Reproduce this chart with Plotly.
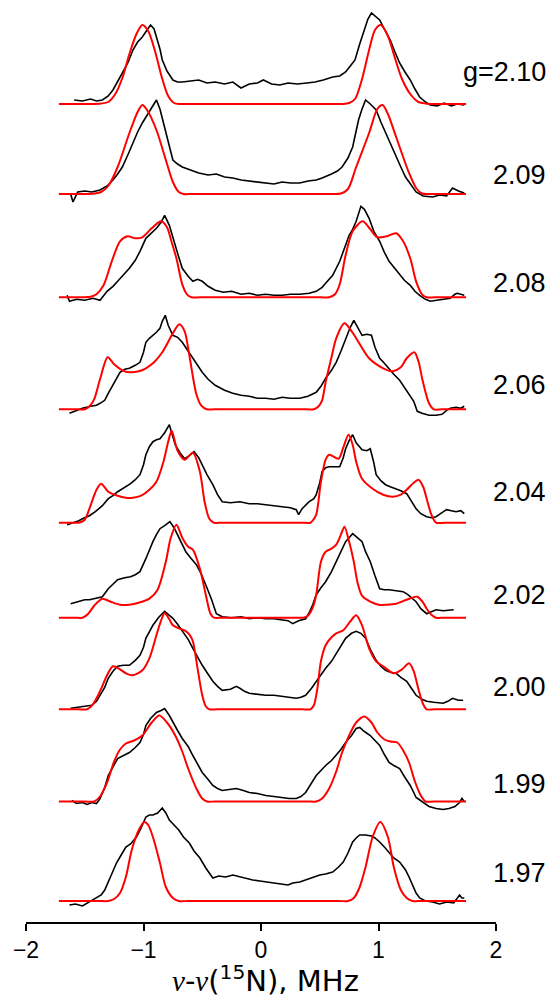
import plotly.graph_objects as go

# ---------------- data (heights in arbitrary intensity units) ----------------
g_labels = ["g=2.10", "2.09", "2.08", "2.06", "2.04", "2.02", "2.00", "1.99", "1.97"]

# experimental (black) spectra
exp_210_x = [-1.59, -1.52, -1.45, -1.40, -1.35, -1.30, -1.26, -1.22, -1.18, -1.13, -1.09, -1.05, -1.01, -0.97, -0.94, -0.91, -0.89, -0.86, -0.84, -0.80, -0.75, -0.71, -0.67, -0.60, -0.53, -0.46, -0.39, -0.31, -0.24, -0.17, -0.10, -0.03, 0.02, 0.09, 0.16, 0.23, 0.31, 0.39, 0.46, 0.53, 0.61, 0.67, 0.72, 0.76, 0.80, 0.84, 0.87, 0.91, 0.94, 0.97, 1.01, 1.05, 1.10, 1.14, 1.18, 1.22, 1.27, 1.31, 1.35, 1.40, 1.44, 1.50, 1.56, 1.62, 1.67, 1.73]
exp_210_y = [4, 3, 5, 3, 4, 8, 14, 22, 31, 42, 54, 62, 67, 74, 79, 75, 67, 55, 44, 33, 24, 22, 22, 23, 24, 21, 22, 20, 22, 16, 20, 21, 24, 20, 19, 21, 20, 21, 22, 24, 27, 28, 32, 38, 44, 60, 71, 85, 91, 88, 84, 75, 64, 52, 41, 33, 24, 15, 7, 2, -1, -2, 1, -2, 0, -1]

exp_209_x = [-1.62, -1.60, -1.56, -1.50, -1.44, -1.37, -1.31, -1.26, -1.22, -1.18, -1.13, -1.09, -1.05, -1.01, -0.96, -0.92, -0.89, -0.86, -0.82, -0.78, -0.75, -0.71, -0.67, -0.60, -0.53, -0.45, -0.38, -0.31, -0.24, -0.17, -0.10, -0.03, 0.04, 0.11, 0.18, 0.25, 0.33, 0.40, 0.47, 0.52, 0.60, 0.65, 0.69, 0.74, 0.78, 0.81, 0.83, 0.86, 0.89, 0.93, 0.98, 1.02, 1.06, 1.10, 1.15, 1.19, 1.23, 1.28, 1.32, 1.38, 1.46, 1.52, 1.58, 1.63, 1.68, 1.73]
exp_209_y = [0, -8, 2, 3, 2, 4, 8, 14, 20, 27, 40, 51, 62, 71, 81, 88, 94, 85, 67, 48, 34, 30, 27, 24, 21, 19, 20, 17, 16, 14, 13, 12, 11, 10, 12, 11, 11, 13, 14, 16, 20, 23, 27, 36, 47, 62, 74, 85, 94, 90, 84, 72, 61, 50, 37, 27, 17, 9, 2, -2, -3, -1, -2, 6, 3, 1]

exp_208_x = [-1.65, -1.63, -1.57, -1.50, -1.43, -1.37, -1.31, -1.26, -1.22, -1.17, -1.12, -1.07, -1.03, -0.98, -0.93, -0.89, -0.85, -0.82, -0.78, -0.75, -0.71, -0.67, -0.62, -0.58, -0.54, -0.50, -0.45, -0.39, -0.32, -0.25, -0.17, -0.10, -0.03, 0.04, 0.11, 0.18, 0.25, 0.33, 0.41, 0.47, 0.52, 0.55, 0.61, 0.67, 0.71, 0.75, 0.78, 0.81, 0.85, 0.88, 0.92, 0.96, 1.01, 1.05, 1.09, 1.13, 1.18, 1.22, 1.27, 1.31, 1.35, 1.40, 1.44, 1.50, 1.55, 1.61, 1.65, 1.67, 1.73]
exp_208_y = [2, -4, -2, -3, -1, -3, 6, 11, 16, 22, 29, 37, 46, 59, 65, 69, 75, 82, 72, 59, 44, 29, 21, 16, 18, 16, 11, 7, 5, 6, 3, 4, 2, 3, 2, 2, 3, 3, 4, 6, 10, 14, 22, 36, 48, 62, 68, 76, 91, 88, 79, 66, 56, 45, 36, 30, 22, 17, 12, 6, 2, -2, -4, -3, -2, -1, 3, 4, 2]

exp_206_x = [-1.63, -1.57, -1.52, -1.45, -1.40, -1.37, -1.33, -1.30, -1.26, -1.23, -1.20, -1.16, -1.12, -1.07, -1.03, -1.00, -0.98, -0.95, -0.92, -0.89, -0.86, -0.84, -0.815, -0.79, -0.75, -0.71, -0.67, -0.62, -0.58, -0.54, -0.50, -0.45, -0.39, -0.31, -0.24, -0.17, -0.10, -0.03, 0.04, 0.11, 0.18, 0.25, 0.33, 0.40, 0.47, 0.51, 0.55, 0.60, 0.64, 0.68, 0.72, 0.76, 0.79, 0.83, 0.86, 0.90, 0.94, 0.97, 1.01, 1.05, 1.09, 1.13, 1.18, 1.22, 1.27, 1.30, 1.33, 1.37, 1.43, 1.49, 1.54, 1.58, 1.61, 1.66, 1.70, 1.73]
exp_206_y = [-4, -1, 1, 3, 4, 6, 9, 16, 24, 30, 37, 40, 41, 44, 47, 57, 67, 71, 74, 77, 81, 88, 94, 84, 74, 72, 67, 58, 51, 44, 37, 30, 24, 19, 16, 14, 13, 11, 11, 10, 12, 11, 11, 13, 17, 23, 31, 39, 47, 58, 71, 82, 89, 80, 74, 75, 74, 62, 51, 46, 40, 35, 29, 22, 14, 8, -2, -4, -6, -6, -5, -1, 1, 2, 1, 3]

exp_204_x = [-1.65, -1.60, -1.55, -1.52, -1.46, -1.41, -1.35, -1.30, -1.26, -1.22, -1.16, -1.11, -1.07, -1.03, -1.00, -0.98, -0.95, -0.92, -0.89, -0.86, -0.82, -0.78, -0.75, -0.73, -0.69, -0.65, -0.61, -0.57, -0.53, -0.50, -0.46, -0.41, -0.37, -0.33, -0.26, -0.18, -0.10, -0.03, 0.04, 0.11, 0.18, 0.25, 0.30, 0.32, 0.35, 0.41, 0.45, 0.47, 0.50, 0.52, 0.55, 0.58, 0.62, 0.67, 0.70, 0.72, 0.75, 0.78, 0.81, 0.86, 0.90, 0.93, 0.96, 0.98, 1.02, 1.06, 1.10, 1.15, 1.19, 1.24, 1.28, 1.32, 1.36, 1.41, 1.45, 1.49, 1.54, 1.58, 1.62, 1.66, 1.70, 1.73]
exp_204_y = [-2, 0, 2, 4, 7, 11, 17, 24, 27, 31, 35, 39, 43, 48, 58, 68, 76, 81, 83, 84, 90, 98, 86, 78, 70, 64, 67, 71, 65, 58, 48, 38, 28, 21, 20, 21, 19, 19, 18, 17, 16, 15, 13, 8, 14, 21, 24, 28, 40, 51, 55, 56, 56, 56, 65, 74, 82, 88, 80, 73, 72, 74, 60, 48, 42, 38, 36, 34, 32, 29, 22, 14, 9, 6, 5, 6, 10, 13, 12, 11, 12, 9]

exp_202_x = [-1.62, -1.56, -1.50, -1.46, -1.40, -1.35, -1.30, -1.26, -1.22, -1.16, -1.11, -1.07, -1.03, -0.98, -0.95, -0.92, -0.89, -0.86, -0.82, -0.775, -0.74, -0.71, -0.67, -0.64, -0.60, -0.55, -0.51, -0.48, -0.45, -0.42, -0.40, -0.38, -0.33, -0.25, -0.17, -0.10, -0.03, 0.04, 0.11, 0.18, 0.23, 0.27, 0.32, 0.38, 0.41, 0.44, 0.47, 0.51, 0.55, 0.60, 0.64, 0.68, 0.72, 0.75, 0.78, 0.82, 0.86, 0.89, 0.93, 0.97, 1.01, 1.05, 1.09, 1.15, 1.21, 1.25, 1.29, 1.32, 1.36, 1.41, 1.45, 1.49, 1.55, 1.61, 1.64]
exp_202_y = [14, 16, 18, 18, 20, 21, 29, 34, 38, 40, 41, 43, 46, 59, 68, 76, 83, 89, 92, 96, 90, 83, 74, 66, 60, 53, 44, 36, 27, 18, 10, 4, 1, 0, 1, -1, 0, -1, -1, -2, -3, -6, -3, -1, 5, 13, 23, 30, 36, 46, 56, 66, 76, 80, 84, 80, 76, 66, 56, 42, 29, 28, 28, 27, 26, 23, 19, 16, 9, 4, 6, 8, 7, 8, 8]

exp_200_x = [-1.62, -1.56, -1.50, -1.44, -1.40, -1.37, -1.33, -1.30, -1.26, -1.22, -1.17, -1.12, -1.07, -1.03, -1.00, -0.98, -0.95, -0.92, -0.87, -0.82, -0.78, -0.75, -0.71, -0.67, -0.62, -0.58, -0.54, -0.50, -0.45, -0.41, -0.37, -0.33, -0.26, -0.21, -0.18, -0.14, -0.10, -0.03, 0.04, 0.11, 0.18, 0.24, 0.30, 0.34, 0.38, 0.43, 0.47, 0.51, 0.55, 0.60, 0.64, 0.68, 0.72, 0.77, 0.81, 0.85, 0.89, 0.93, 0.98, 1.02, 1.06, 1.10, 1.15, 1.19, 1.24, 1.28, 1.32, 1.37, 1.41, 1.47, 1.55, 1.59, 1.63, 1.68, 1.72]
exp_200_y = [1, 2, 3, 4, 8, 14, 22, 31, 38, 43, 44, 44, 49, 54, 62, 71, 78, 84, 92, 98, 94, 91, 85, 78, 70, 61, 52, 44, 35, 28, 23, 19, 20, 23, 21, 18, 16, 15, 14, 14, 13, 12, 11, 12, 14, 21, 28, 34, 41, 48, 56, 64, 71, 76, 78, 76, 71, 60, 49, 43, 39, 37, 36, 32, 28, 21, 14, 10, 8, 7, 6, 8, 11, 9, 9]

exp_199_x = [-1.61, -1.57, -1.52, -1.48, -1.44, -1.40, -1.37, -1.33, -1.30, -1.26, -1.22, -1.17, -1.12, -1.07, -1.03, -1.00, -0.98, -0.94, -0.89, -0.85, -0.82, -0.78, -0.75, -0.71, -0.67, -0.62, -0.58, -0.54, -0.50, -0.45, -0.41, -0.37, -0.33, -0.27, -0.21, -0.15, -0.10, -0.03, 0.04, 0.11, 0.18, 0.24, 0.30, 0.34, 0.38, 0.43, 0.47, 0.51, 0.55, 0.60, 0.64, 0.68, 0.72, 0.77, 0.81, 0.84, 0.88, 0.93, 0.97, 1.01, 1.05, 1.09, 1.13, 1.18, 1.22, 1.27, 1.30, 1.32, 1.37, 1.43, 1.49, 1.55, 1.60, 1.65, 1.69, 1.71, 1.73]
exp_199_y = [1, -2, -1, -3, -1, -2, 3, 14, 26, 35, 43, 46, 49, 54, 59, 67, 76, 83, 89, 91, 93, 86, 79, 71, 63, 55, 46, 38, 29, 22, 16, 13, 11, 12, 13, 11, 9, 8, 6, 5, 4, 3, 3, 5, 9, 18, 26, 31, 36, 41, 46, 52, 59, 66, 73, 74, 70, 66, 61, 56, 47, 39, 36, 33, 25, 16, 9, 4, 0, -5, -7, -8, -7, -5, -1, 3, 0]

exp_197_x = [-1.63, -1.58, -1.52, -1.46, -1.40, -1.36, -1.33, -1.29, -1.26, -1.23, -1.19, -1.15, -1.11, -1.06, -1.02, -0.98, -0.95, -0.92, -0.88, -0.84, -0.81, -0.78, -0.74, -0.70, -0.66, -0.61, -0.57, -0.52, -0.47, -0.43, -0.41, -0.36, -0.30, -0.24, -0.18, -0.13, -0.07, -0.01, 0.04, 0.11, 0.17, 0.23, 0.27, 0.33, 0.38, 0.44, 0.50, 0.55, 0.61, 0.66, 0.70, 0.74, 0.78, 0.81, 0.84, 0.89, 0.94, 0.97, 1.01, 1.05, 1.09, 1.13, 1.18, 1.21, 1.23, 1.26, 1.29, 1.32, 1.35, 1.40, 1.46, 1.52, 1.58, 1.64, 1.69, 1.71, 1.73]
exp_197_y = [-4, -3, -5, -1, 3, 6, 11, 22, 30, 38, 46, 54, 57, 64, 73, 84, 86, 86, 88, 93, 88, 81, 76, 71, 64, 58, 50, 43, 33, 27, 23, 25, 24, 26, 24, 23, 21, 20, 19, 18, 17, 16, 18, 19, 21, 24, 26, 27, 29, 34, 39, 48, 59, 63, 66, 66, 65, 63, 59, 54, 48, 43, 39, 34, 31, 24, 16, 8, 3, 0, -1, -3, -1, -2, 6, 3, 3]

# simulated (red) spectra
sim_210_x = [-1.72, -1.45, -1.36, -1.30, -1.24, -1.18, -1.12, -1.06, -1.01, -0.96, -0.90, -0.84, -0.79, -0.74, -0.69, -0.60, 0.0, 0.62, 0.70, 0.75, 0.80, 0.86, 0.92, 0.97, 1.02, 1.08, 1.14, 1.20, 1.27, 1.34, 1.40, 1.48, 1.745]
sim_210_y = [0, 0, 0.5, 2, 10, 26, 50, 70, 79, 73, 52, 25, 8, 1, 0, 0, 0, 0, 0, 1, 5, 25, 54, 74, 79, 68, 46, 25, 10, 2, 0.5, 0, 0]

sim_209_x = [-1.72, -1.50, -1.42, -1.36, -1.30, -1.22, -1.12, -1.05, -1.01, -0.97, -0.89, -0.81, -0.75, -0.70, -0.66, -0.58, 0.0, 0.60, 0.68, 0.74, 0.81, 0.92, 0.99, 1.035, 1.08, 1.15, 1.26, 1.32, 1.37, 1.45, 1.745]
sim_209_y = [0, 0, 0.5, 2, 8, 27, 61, 82, 89, 84, 64, 34, 12, 2, 0, 0, 0, 0, 0.5, 5, 27, 61, 85, 89, 80, 57, 21, 6, 0.5, 0, 0]

sim_208_x = [-1.72, -1.52, -1.45, -1.40, -1.34, -1.27, -1.20, -1.135, -1.07, -1.01, -0.93, -0.85, -0.80, -0.76, -0.72, -0.67, -0.63, -0.59, -0.52, 0.0, 0.51, 0.58, 0.63, 0.67, 0.72, 0.78, 0.865, 0.93, 0.99, 1.07, 1.15, 1.21, 1.27, 1.32, 1.37, 1.41, 1.48, 1.745]
sim_208_y = [0, 0, 0.5, 3, 12, 36, 56, 61, 59, 60, 69, 76, 70, 55, 39, 13, 3, 0, 0, 0, 0, 0, 3, 13, 42, 66, 76, 68, 60, 61, 64, 56, 39, 16, 3, 0, 0, 0]

sim_206_x = [-1.72, -1.55, -1.50, -1.46, -1.42, -1.37, -1.305, -1.25, -1.18, -1.12, -1.04, -0.98, -0.91, -0.84, -0.75, -0.695, -0.65, -0.61, -0.55, -0.51, -0.46, -0.40, 0.0, 0.39, 0.45, 0.49, 0.52, 0.55, 0.60, 0.64, 0.71, 0.76, 0.81, 0.92, 1.04, 1.12, 1.19, 1.24, 1.305, 1.34, 1.375, 1.43, 1.47, 1.54, 1.745]
sim_206_y = [0, 0, 0, 3, 10, 30, 52, 45, 39, 37, 38, 41, 47, 57, 76, 85, 78, 54, 15, 4, 0, 0, 0, 0, 0, 3, 9, 27, 52, 71, 86, 80, 71, 51, 41, 38, 42, 51, 57, 48, 29, 6, 0, 0, 0]

sim_204_x = [-1.72, -1.60, -1.55, -1.50, -1.46, -1.40, -1.36, -1.30, -1.22, -1.15, -1.09, -1.02, -0.95, -0.89, -0.83, -0.79, -0.76, -0.71, -0.65, -0.58, -0.52, -0.48, -0.44, -0.40, -0.33, 0.0, 0.35, 0.42, 0.44, 0.47, 0.51, 0.55, 0.58, 0.66, 0.70, 0.745, 0.78, 0.81, 0.86, 0.95, 1.04, 1.12, 1.19, 1.24, 1.30, 1.34, 1.38, 1.41, 1.45, 1.49, 1.56, 1.745]
sim_204_y = [0, 0, 0, 3, 14, 33, 39, 31, 27, 25, 25, 27, 33, 41, 61, 81, 92, 72, 63, 70, 51, 21, 4, 0, 0, 0, 0, 0, 2, 8, 41, 63, 68, 64, 75, 88, 78, 61, 44, 34, 28, 26, 28, 33, 40, 43, 36, 24, 8, 0, 0, 0]

sim_202_x = [-1.72, -1.58, -1.52, -1.47, -1.42, -1.35, -1.28, -1.20, -1.12, -1.04, -0.95, -0.88, -0.81, -0.77, -0.72, -0.67, -0.62, -0.58, -0.52, -0.47, -0.43, -0.40, -0.33, 0.0, 0.30, 0.36, 0.40, 0.44, 0.47, 0.51, 0.55, 0.60, 0.64, 0.68, 0.71, 0.75, 0.79, 0.82, 0.86, 0.93, 1.00, 1.07, 1.15, 1.24, 1.33, 1.38, 1.41, 1.45, 1.49, 1.56, 1.745]
sim_202_y = [0, 0, 0, 4, 12, 19, 16, 13, 13, 15, 19, 28, 56, 79, 93, 80, 71, 68, 49, 23, 4, 0, 0, 0, 0, 0, 2, 10, 23, 56, 66, 69, 73, 83, 91, 76, 56, 36, 22, 16, 13, 13, 14, 18, 21, 15, 9, 3, 0, 0, 0]

sim_200_x = [-1.72, -1.55, -1.48, -1.43, -1.37, -1.31, -1.26, -1.20, -1.15, -1.09, -1.01, -0.95, -0.89, -0.85, -0.82, -0.78, -0.75, -0.70, -0.65, -0.61, -0.58, -0.54, -0.50, -0.47, -0.44, -0.37, 0.0, 0.35, 0.42, 0.45, 0.48, 0.51, 0.55, 0.60, 0.64, 0.70, 0.76, 0.81, 0.86, 0.92, 0.98, 1.04, 1.13, 1.20, 1.26, 1.30, 1.34, 1.38, 1.41, 1.48, 1.745]
sim_200_y = [0, 0, 0, 5, 18, 34, 43, 40, 36, 34, 39, 51, 74, 89, 96, 90, 84, 81, 79, 75, 68, 41, 14, 3, 0, 0, 0, 0, 0, 4, 21, 48, 64, 72, 76, 79, 88, 94, 84, 61, 48, 43, 36, 40, 46, 38, 20, 5, 0, 0, 0]

sim_199_x = [-1.72, -1.50, -1.42, -1.37, -1.31, -1.25, -1.20, -1.15, -1.08, -1.01, -0.93, -0.865, -0.80, -0.73, -0.67, -0.62, -0.55, -0.50, -0.46, -0.39, 0.0, 0.40, 0.47, 0.52, 0.58, 0.64, 0.69, 0.75, 0.81, 0.88, 0.94, 0.99, 1.05, 1.10, 1.16, 1.21, 1.26, 1.31, 1.36, 1.40, 1.47, 1.745]
sim_199_y = [0, 0, 0, 5, 19, 40, 52, 58, 61, 66, 79, 86, 79, 66, 50, 33, 13, 3, 0, 0, 0, 0, 0, 3, 13, 30, 49, 66, 79, 85, 79, 69, 62, 60, 59, 51, 39, 20, 6, 0, 0, 0]

sim_197_x = [-1.72, -1.38, -1.30, -1.25, -1.20, -1.15, -1.10, -1.04, -0.993, -0.96, -0.92, -0.86, -0.81, -0.75, -0.70, -0.62, 0.0, 0.66, 0.74, 0.79, 0.84, 0.89, 0.95, 1.015, 1.08, 1.13, 1.19, 1.24, 1.29, 1.37, 1.745]
sim_197_y = [0, 0, 0, 2, 8, 24, 51, 71, 79, 76, 64, 38, 14, 3, 0, 0, 0, 0, 0, 3, 14, 34, 64, 79, 64, 34, 11, 3, 0, 0, 0]

x_ticks = [-2, -1, 0, 1, 2]
x_tick_labels = ["\u22122", "\u22121", "0", "1", "2"]

# ---------------- layout helpers ----------------
trace_offsets = [818, 728, 624.7, 512.7, 399.3, 304.3, 212.7, 120.5, 21]
label_y = [850, 747, 639, 537, 430, 327, 235, 138, 49]

experimental = [
    (exp_210_x, exp_210_y), (exp_209_x, exp_209_y), (exp_208_x, exp_208_y),
    (exp_206_x, exp_206_y), (exp_204_x, exp_204_y), (exp_202_x, exp_202_y),
    (exp_200_x, exp_200_y), (exp_199_x, exp_199_y), (exp_197_x, exp_197_y),
]
simulated = [
    (sim_210_x, sim_210_y), (sim_209_x, sim_209_y), (sim_208_x, sim_208_y),
    (sim_206_x, sim_206_y), (sim_204_x, sim_204_y), (sim_202_x, sim_202_y),
    (sim_200_x, sim_200_y), (sim_199_x, sim_199_y), (sim_197_x, sim_197_y),
]

FONT = "Liberation Sans, Arial, sans-serif"

fig = go.Figure()
for (ex, ey), (sx, sy), off in zip(experimental, simulated, trace_offsets):
    fig.add_trace(go.Scatter(
        x=ex, y=[v + off for v in ey], mode="lines",
        line=dict(color="black", width=1.6), showlegend=False, hoverinfo="skip"))
    fig.add_trace(go.Scatter(
        x=sx, y=[v + off for v in sy], mode="lines",
        line=dict(color="#ff0000", width=2, shape="spline", smoothing=0.8),
        showlegend=False, hoverinfo="skip"))

annotations = []
for lab, ly in zip(g_labels, label_y):
    annotations.append(dict(
        text=lab, xref="paper", yref="y", x=1.1106, y=ly,
        xanchor="right", yanchor="middle", showarrow=False,
        font=dict(family=FONT, size=27, color="black")))
annotations.append(dict(
    text="<i><span style='font-family:Liberation Serif'>\u03bd</span></i>-"
         "<i><span style='font-family:Liberation Serif'>\u03bd</span></i>"
         "(<sup>15</sup>N), MHz",
    xref="x", yref="paper", x=0.037, y=-0.0615,
    xanchor="center", yanchor="middle", showarrow=False,
    font=dict(family="DejaVu Sans, sans-serif", size=29, color="black")))

fig.update_layout(
    width=554, height=1001,
    margin=dict(l=26, r=58, t=0, b=79, pad=0),
    paper_bgcolor="white", plot_bgcolor="white",
    xaxis=dict(range=[-2, 2], tickvals=x_ticks, ticktext=x_tick_labels,
               ticks="outside", ticklen=7, tickwidth=1.5, tickcolor="black",
               showline=True, linecolor="black", linewidth=1.5,
               showgrid=False, zeroline=False, fixedrange=True,
               tickfont=dict(family=FONT, size=23, color="black")),
    yaxis=dict(range=[0, 922], visible=False, fixedrange=True),
    annotations=annotations,
)

fig.write_html("out.html", config={"displayModeBar": False},
               post_script="document.body.style.margin='0';")
